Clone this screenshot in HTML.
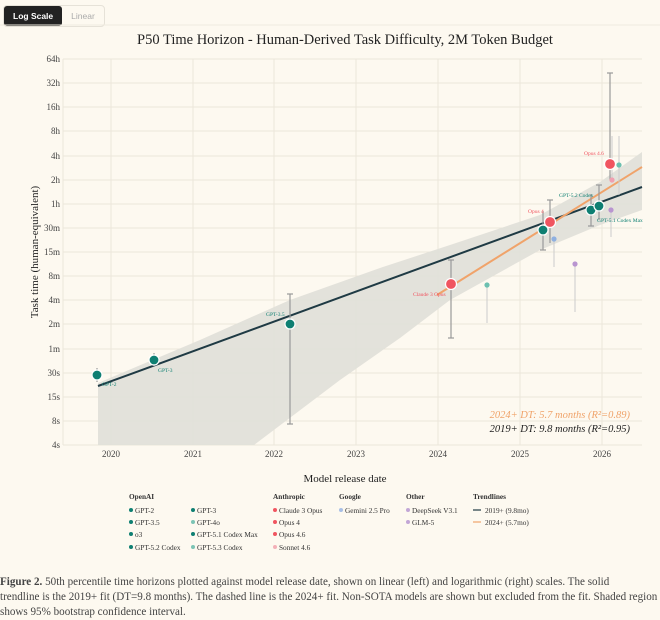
<!DOCTYPE html>
<html><head><meta charset="utf-8"><style>
body{margin:0;background:#fdf9f0;width:660px;height:618px;overflow:hidden;font-family:"Liberation Serif",serif;}
.tog{position:absolute;left:3px;top:5px;display:flex;border:1px solid #e6e2d8;border-radius:4px;font-family:"Liberation Sans",sans-serif;font-size:8.5px;}
.tog div{padding:5px 9px}
.cap{position:absolute;left:0;top:575px;width:700px;font-size:11.1px;line-height:15px;color:#444;white-space:nowrap}
</style></head><body>
<div class="tog"><div style="background:#222;color:#fff;font-weight:bold;border-radius:3px">Log Scale</div><div style="color:#aaa">Linear</div></div>
<svg width="660" height="570" style="position:absolute;left:0;top:0" font-family="Liberation Serif, serif">
<line x1="0" y1="25" x2="660" y2="25" stroke="#efeadf"/>
<text x="345" y="44" font-size="14.5" text-anchor="middle" fill="#222">P50 Time Horizon - Human-Derived Task Difficulty, 2M Token Budget</text>
<g stroke="#ebe6da" stroke-width="1">
<line x1="63" y1="59" x2="642" y2="59"/><line x1="63" y1="83" x2="642" y2="83"/><line x1="63" y1="107" x2="642" y2="107"/><line x1="63" y1="131" x2="642" y2="131"/><line x1="63" y1="156" x2="642" y2="156"/><line x1="63" y1="180" x2="642" y2="180"/><line x1="63" y1="204" x2="642" y2="204"/><line x1="63" y1="228" x2="642" y2="228"/><line x1="63" y1="252" x2="642" y2="252"/><line x1="63" y1="276" x2="642" y2="276"/><line x1="63" y1="300" x2="642" y2="300"/><line x1="63" y1="324" x2="642" y2="324"/><line x1="63" y1="349" x2="642" y2="349"/><line x1="63" y1="373" x2="642" y2="373"/><line x1="63" y1="397" x2="642" y2="397"/><line x1="63" y1="421" x2="642" y2="421"/><line x1="63" y1="445" x2="642" y2="445"/>
<line x1="111" y1="59" x2="111" y2="445"/><line x1="193" y1="59" x2="193" y2="445"/><line x1="274" y1="59" x2="274" y2="445"/><line x1="356" y1="59" x2="356" y2="445"/><line x1="438" y1="59" x2="438" y2="445"/><line x1="520" y1="59" x2="520" y2="445"/><line x1="602" y1="59" x2="602" y2="445"/>
<line x1="63" y1="59" x2="63" y2="445"/>
</g>
<g font-size="9" fill="#444" text-anchor="end">
<text x="60" y="62">64h</text><text x="60" y="86">32h</text><text x="60" y="110">16h</text><text x="60" y="134">8h</text><text x="60" y="159">4h</text><text x="60" y="183">2h</text><text x="60" y="207">1h</text><text x="60" y="231">30m</text><text x="60" y="255">15m</text><text x="60" y="279">8m</text><text x="60" y="303">4m</text><text x="60" y="327">2m</text><text x="60" y="352">1m</text><text x="60" y="376">30s</text><text x="60" y="400">15s</text><text x="60" y="424">8s</text><text x="60" y="448">4s</text>
</g>
<g font-size="9" fill="#444" text-anchor="middle">
<text x="111" y="457">2020</text><text x="193" y="457">2021</text><text x="274" y="457">2022</text><text x="356" y="457">2023</text><text x="438" y="457">2024</text><text x="520" y="457">2025</text><text x="602" y="457">2026</text>
</g>
<text x="345" y="482" font-size="11" text-anchor="middle" fill="#222">Model release date</text>
<text transform="translate(38,252) rotate(-90)" font-size="11" text-anchor="middle" fill="#222">Task time (human-equivalent)</text>
<polygon points="98,383 200,340 290,300 380,268 450,245 540,215 600,182 642,152 642,210 600,225 540,250 450,300 400,338 340,380 254,445 98,445" fill="#e2e0d9" opacity="0.95"/>
<line x1="98" y1="386" x2="642" y2="187" stroke="#1f3a44" stroke-width="2"/>
<line x1="437" y1="295" x2="642" y2="167" stroke="#f0a36a" stroke-width="2"/>
<g stroke="#999" stroke-width="1.2">
<line x1="97" y1="368" x2="97" y2="382"/><line x1="154" y1="353" x2="154" y2="366"/><line x1="290" y1="294" x2="290" y2="424"/><line x1="287" y1="294" x2="293" y2="294"/><line x1="287" y1="424" x2="293" y2="424"/>
<line x1="451" y1="260" x2="451" y2="338"/><line x1="448" y1="260" x2="454" y2="260"/><line x1="448" y1="338" x2="454" y2="338"/>
<line x1="543" y1="211" x2="543" y2="250"/><line x1="550" y1="200" x2="550" y2="243"/><line x1="547" y1="200" x2="553" y2="200"/><line x1="540" y1="250" x2="546" y2="250"/>
<line x1="591" y1="194" x2="591" y2="226"/><line x1="588" y1="226" x2="594" y2="226"/><line x1="599" y1="185" x2="599" y2="220"/><line x1="596" y1="185" x2="602" y2="185"/>
<line x1="610" y1="73" x2="610" y2="180"/><line x1="607" y1="73" x2="613" y2="73"/>
</g>
<g stroke="#ccc" stroke-width="1">
<line x1="487" y1="285" x2="487" y2="323"/><line x1="554" y1="239" x2="554" y2="267"/><line x1="575" y1="264" x2="575" y2="312"/><line x1="619" y1="136" x2="619" y2="195"/><line x1="612" y1="136" x2="612" y2="180"/><line x1="611" y1="210" x2="611" y2="237"/>
</g>
<g stroke="#fff" stroke-width="1.2">
<circle cx="97" cy="375" r="5" fill="#0e7f72"/><circle cx="154" cy="360" r="5" fill="#0e7f72"/><circle cx="290" cy="324" r="5" fill="#0e7f72"/>
<circle cx="451" cy="284" r="5.5" fill="#f05560"/><circle cx="543" cy="230" r="5" fill="#0e7f72"/><circle cx="550" cy="222" r="5.5" fill="#f05560"/>
<circle cx="591" cy="210" r="5" fill="#0e7f72"/><circle cx="599" cy="206" r="5" fill="#0e7f72"/><circle cx="610" cy="164" r="5.5" fill="#f05560"/>
</g>
<g>
<circle cx="487" cy="285" r="2.6" fill="#6cc0b0"/><circle cx="554" cy="239" r="2.6" fill="#8fb0e0"/><circle cx="575" cy="264" r="2.6" fill="#b995d0"/><circle cx="619" cy="165" r="2.6" fill="#6cc0b0"/><circle cx="612" cy="180" r="2.6" fill="#f0a0b0"/><circle cx="611" cy="210" r="2.6" fill="#b995d0"/>
</g>
<g font-size="5.5">
<text x="102" y="386" fill="#0e7f72">GPT-2</text><text x="158" y="372" fill="#0e7f72">GPT-3</text><text x="266" y="316" fill="#0e7f72">GPT-3.5</text>
<text x="413" y="296" fill="#f05560">Claude 3 Opus</text><text x="528" y="213" fill="#f05560">Opus 4</text>
<text x="559" y="197" fill="#0e7f72">GPT-5.2 Codex</text><text x="597" y="222" fill="#0e7f72">GPT-5.1 Codex Max</text><text x="584" y="155" fill="#f05560">Opus 4.6</text>
</g>
<text x="630" y="418" font-size="10.5" font-style="italic" text-anchor="end" fill="#f0a36a">2024+ DT: 5.7 months (R²=0.89)</text>
<text x="630" y="432" font-size="10.5" font-style="italic" text-anchor="end" fill="#222">2019+ DT: 9.8 months (R²=0.95)</text>
<g font-size="7.3" fill="#333">
<text x="129" y="499" font-weight="bold">OpenAI</text><text x="273" y="499" font-weight="bold">Anthropic</text><text x="339" y="499" font-weight="bold">Google</text><text x="406" y="499" font-weight="bold">Other</text><text x="473" y="499" font-weight="bold">Trendlines</text>
<circle cx="131" cy="510" r="2" fill="#0e7f72"/><text x="135" y="513">GPT-2</text>
<circle cx="131" cy="522" r="2" fill="#0e7f72"/><text x="135" y="525">GPT-3.5</text>
<circle cx="131" cy="534" r="2" fill="#0e7f72"/><text x="135" y="537">o3</text>
<circle cx="131" cy="547" r="2" fill="#0e7f72"/><text x="135" y="550">GPT-5.2 Codex</text>
<circle cx="193" cy="510" r="2" fill="#0e7f72"/><text x="197" y="513">GPT-3</text>
<circle cx="193" cy="522" r="2" fill="#7cc4b5"/><text x="197" y="525">GPT-4o</text>
<circle cx="193" cy="534" r="2" fill="#0e7f72"/><text x="197" y="537">GPT-5.1 Codex Max</text>
<circle cx="193" cy="547" r="2" fill="#7cc4b5"/><text x="197" y="550">GPT-5.3 Codex</text>
<circle cx="275" cy="510" r="2" fill="#f05560"/><text x="279" y="513">Claude 3 Opus</text>
<circle cx="275" cy="522" r="2" fill="#f05560"/><text x="279" y="525">Opus 4</text>
<circle cx="275" cy="534" r="2" fill="#f05560"/><text x="279" y="537">Opus 4.6</text>
<circle cx="275" cy="547" r="2" fill="#f3b0b8"/><text x="279" y="550">Sonnet 4.6</text>
<circle cx="341" cy="510" r="2" fill="#a8bfe6"/><text x="345" y="513">Gemini 2.5 Pro</text>
<circle cx="408" cy="510" r="2" fill="#c2a6d6"/><text x="412" y="513">DeepSeek V3.1</text>
<circle cx="408" cy="522" r="2" fill="#c2a6d6"/><text x="412" y="525">GLM-5</text>
<line x1="473" y1="510" x2="481" y2="510" stroke="#1f3a44" stroke-width="1.2"/><text x="485" y="513">2019+ (9.8mo)</text>
<line x1="473" y1="522" x2="481" y2="522" stroke="#f0a36a" stroke-width="1.2"/><text x="485" y="525">2024+ (5.7mo)</text>
</g>
</svg>
<div class="cap"><b>Figure 2.</b> 50th percentile time horizons plotted against model release date, shown on linear (left) and logarithmic (right) scales. The solid<br>trendline is the 2019+ fit (DT=9.8 months). The dashed line is the 2024+ fit. Non-SOTA models are shown but excluded from the fit. Shaded region<br>shows 95% bootstrap confidence interval.</div>
</body></html>
